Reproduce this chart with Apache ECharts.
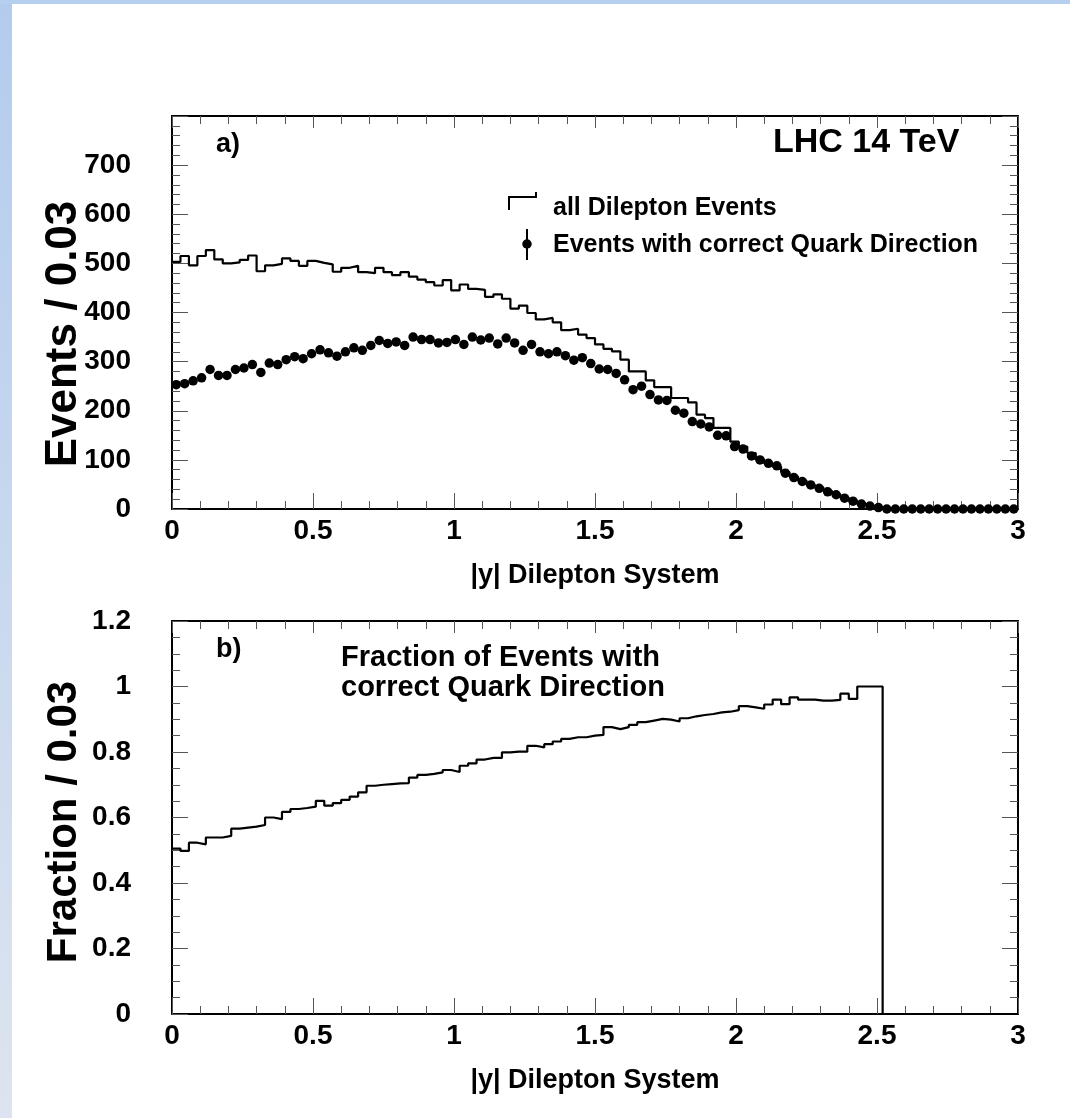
<!DOCTYPE html>
<html>
<head>
<meta charset="utf-8">
<title>|y| Dilepton System</title>
<script src="https://cdn.jsdelivr.net/npm/echarts@6/dist/echarts.min.js"></script>
<style>
  html, body { margin: 0; padding: 0; background: #fff; }
  #chart { width: 1070px; height: 1118px; }
</style>
</head>
<body>
<div id="chart"></div>
<script>
// Rapidity |y| of the dilepton system, 100 bins of width 0.03 from 0 to 3
const binWidth = 0.03;
const nBins = 100;

// a) all dilepton events per bin
const allEvents = [
  503, 515, 496, 515, 527, 508, 500, 502, 507, 516,
  484, 496, 499, 510, 505, 495, 505, 501, 498, 483,
  491, 495, 482, 480, 491, 482, 476, 482, 473, 467,
  462, 455, 466, 445, 457, 448, 446, 432, 437, 428,
  408, 414, 399, 386, 389, 380, 364, 367, 355, 348,
  335, 326, 321, 304, 280, 280, 262, 248, 248, 226,
  226, 217, 192, 185, 165, 165, 137, 127, 114, 101,
  93, 86, 75, 66, 58, 49, 44, 37, 30, 23,
  17, 10, 6, 3, 0, 0, 0, 0, 0, 0,
  0, 0, 0, 0, 0, 0, 0, 0, 0, 0
];

// a) events where the quark direction was assigned correctly
const correctEvents = [
  253, 255, 261, 267, 284, 272, 272, 284, 287, 294,
  278, 297, 294, 304, 310, 306, 316, 324, 318, 311,
  320, 328, 323, 333, 343, 337, 340, 333, 350, 345,
  345, 338, 339, 345, 335, 350, 344, 348, 336, 348,
  338, 323, 335, 320, 316, 320, 312, 303, 308, 296,
  285, 284, 276, 263, 243, 250, 233, 222, 221, 201,
  195, 178, 173, 167, 150, 149, 127, 122, 108, 100,
  93, 88, 73, 64, 56, 49, 42, 35, 29, 22,
  16, 10, 6, 3, 0, 0, 0, 0, 0, 0,
  0, 0, 0, 0, 0, 0, 0, 0, 0, 0
];

// b) fraction of events with correct quark direction
const fraction = [
  0.505, 0.498, 0.523, 0.518, 0.539, 0.539, 0.544, 0.566, 0.569, 0.572,
  0.577, 0.600, 0.595, 0.617, 0.626, 0.629, 0.633, 0.651, 0.636, 0.644,
  0.654, 0.664, 0.677, 0.697, 0.700, 0.702, 0.704, 0.705, 0.722, 0.730,
  0.733, 0.738, 0.745, 0.739, 0.758, 0.765, 0.777, 0.782, 0.782, 0.799,
  0.801, 0.801, 0.819, 0.814, 0.824, 0.832, 0.840, 0.845, 0.845, 0.850,
  0.852, 0.876, 0.870, 0.876, 0.883, 0.891, 0.896, 0.901, 0.899, 0.893,
  0.903, 0.909, 0.913, 0.916, 0.921, 0.923, 0.928, 0.940, 0.936, 0.932,
  0.945, 0.960, 0.946, 0.967, 0.960, 0.960, 0.957, 0.957, 0.959, 0.978,
  0.962, 1.000, 1.000, 1.000, 0, 0, 0, 0, 0, 0,
  0, 0, 0, 0, 0, 0, 0, 0, 0, 0
];

const xTitle = '|y| Dilepton System';
const yTitleTop = 'Events / 0.03';
const yTitleBottom = 'Fraction / 0.03';

const FONT = '"Liberation Sans", Arial, Helvetica, sans-serif';

// histogram outline: one point per lower bin edge, plus the closing edge
function stepData(values) {
  const pts = values.map((v, i) => [i * binWidth, v]);
  pts.push([nBins * binWidth, values[values.length - 1]]);
  return pts;
}
function centreData(values) {
  return values.map((v, i) => [(i + 0.5) * binWidth, v]);
}

const frameLine = { show: true, onZero: false, lineStyle: { color: '#000', width: 2 } };
const tickStyle = { color: '#555', width: 1 };
const labelFont = { fontFamily: FONT, fontWeight: 'bold', fontSize: 28, color: '#000' };

function xAxes(gridIndex) {
  const base = {
    type: 'value', gridIndex, min: 0, max: 3, interval: 0.5,
    axisLine: frameLine, splitLine: { show: false }
  };
  return [
    Object.assign({}, base, {
      position: 'bottom',
      axisTick: { show: true, inside: true, length: 16, lineStyle: tickStyle },
      minorTick: { show: true, splitNumber: 5, length: 8, lineStyle: tickStyle },
      axisLabel: Object.assign({ margin: 8, formatter: v => String(v) }, labelFont),
      name: xTitle, nameLocation: 'middle', nameGap: 53,
      nameTextStyle: { fontFamily: FONT, fontWeight: 'bold', fontSize: 27, color: '#000' }
    }),
    Object.assign({}, base, {
      position: 'top',
      axisTick: { show: true, inside: true, length: 12, lineStyle: tickStyle },
      minorTick: { show: true, splitNumber: 5, length: 8, lineStyle: tickStyle },
      axisLabel: { show: false }
    })
  ];
}

function yAxes(gridIndex, max, interval, minorSplit, showMax) {
  const base = {
    type: 'value', gridIndex, min: 0, max, interval,
    axisLine: frameLine, splitLine: { show: false },
    axisTick: { show: true, inside: true, length: 16, lineStyle: tickStyle },
    minorTick: { show: true, splitNumber: minorSplit, length: 8, lineStyle: tickStyle }
  };
  return [
    Object.assign({}, base, {
      position: 'left',
      axisLabel: Object.assign({ margin: 41, showMaxLabel: showMax, formatter: v => String(v) }, labelFont)
    }),
    Object.assign({}, base, { position: 'right', axisLabel: { show: false } })
  ];
}

const chart = echarts.init(document.getElementById('chart'), null, { renderer: 'canvas' });

const textStyle = (size) => ({ font: `bold ${size}px ${FONT}`, fill: '#000' });

chart.setOption({
  backgroundColor: '#ffffff',
  animation: false,
  grid: [
    { left: 172, top: 116, width: 846, height: 393 },
    { left: 172, top: 621, width: 846, height: 393 }
  ],
  xAxis: [...xAxes(0), ...xAxes(1)],
  yAxis: [...yAxes(0, 800, 100, 5, false), ...yAxes(1, 1.2, 0.2, 4, true)],
  series: [
    {
      name: 'all Dilepton Events', type: 'line', xAxisIndex: 0, yAxisIndex: 0,
      step: 'end', symbol: 'none', clip: false, z: 3,
      lineStyle: { color: '#000', width: 2.2 },
      data: stepData(allEvents)
    },
    {
      name: 'Events with correct Quark Direction', type: 'scatter', xAxisIndex: 0, yAxisIndex: 0,
      symbol: 'circle', symbolSize: 9.5, clip: false, z: 4,
      itemStyle: { color: '#000', opacity: 1 },
      data: centreData(correctEvents)
    },
    {
      name: 'Fraction', type: 'line', xAxisIndex: 2, yAxisIndex: 2,
      step: 'end', symbol: 'none', clip: false, z: 3,
      lineStyle: { color: '#000', width: 2.2 },
      data: stepData(fraction)
    }
  ],
  graphic: [
    // pale blue page edges
    {
      type: 'rect', left: 0, top: 0, z: -10, silent: true,
      shape: { width: 12, height: 1118 },
      style: {
        fill: new echarts.graphic.LinearGradient(0, 0, 0, 1, [
          { offset: 0, color: '#b3ccee' },
          { offset: 1, color: '#dde4ef' }
        ])
      }
    },
    { type: 'rect', left: 0, top: 0, z: -10, silent: true, shape: { width: 1070, height: 4 }, style: { fill: '#b6cef0' } },

    // axis titles
    { type: 'text', x: 64, y: 334, rotation: Math.PI / 2, style: Object.assign({ text: yTitleTop, textAlign: 'center', textVerticalAlign: 'middle' }, textStyle(44)) },
    { type: 'text', x: 64, y: 822, rotation: Math.PI / 2, style: Object.assign({ text: yTitleBottom, textAlign: 'center', textVerticalAlign: 'middle' }, textStyle(42)) },

    // panel a) annotations
    { type: 'text', x: 216, y: 145, style: Object.assign({ text: 'a)', textAlign: 'left', textVerticalAlign: 'middle' }, textStyle(27)) },
    { type: 'text', x: 773, y: 143, style: Object.assign({ text: 'LHC 14 TeV', textAlign: 'left', textVerticalAlign: 'middle' }, textStyle(34)) },

    // legend
    { type: 'polyline', shape: { points: [[509, 210], [509, 197], [536, 197], [536, 192]] }, style: { stroke: '#000', lineWidth: 2, fill: null } },
    { type: 'text', x: 553, y: 208, style: Object.assign({ text: 'all Dilepton Events', textAlign: 'left', textVerticalAlign: 'middle' }, textStyle(25)) },
    { type: 'line', shape: { x1: 527, y1: 229, x2: 527, y2: 260 }, style: { stroke: '#000', lineWidth: 2 } },
    { type: 'circle', shape: { cx: 527, cy: 244, r: 4.75 }, style: { fill: '#000' } },
    { type: 'text', x: 553, y: 245, style: Object.assign({ text: 'Events with correct Quark Direction', textAlign: 'left', textVerticalAlign: 'middle' }, textStyle(25)) },

    // panel b) annotations
    { type: 'text', x: 216, y: 650, style: Object.assign({ text: 'b)', textAlign: 'left', textVerticalAlign: 'middle' }, textStyle(27)) },
    { type: 'text', x: 341, y: 658, style: Object.assign({ text: 'Fraction of Events with', textAlign: 'left', textVerticalAlign: 'middle' }, textStyle(29)) },
    { type: 'text', x: 341, y: 688, style: Object.assign({ text: 'correct Quark Direction', textAlign: 'left', textVerticalAlign: 'middle' }, textStyle(29)) }
  ]
});
</script>
</body>
</html>
